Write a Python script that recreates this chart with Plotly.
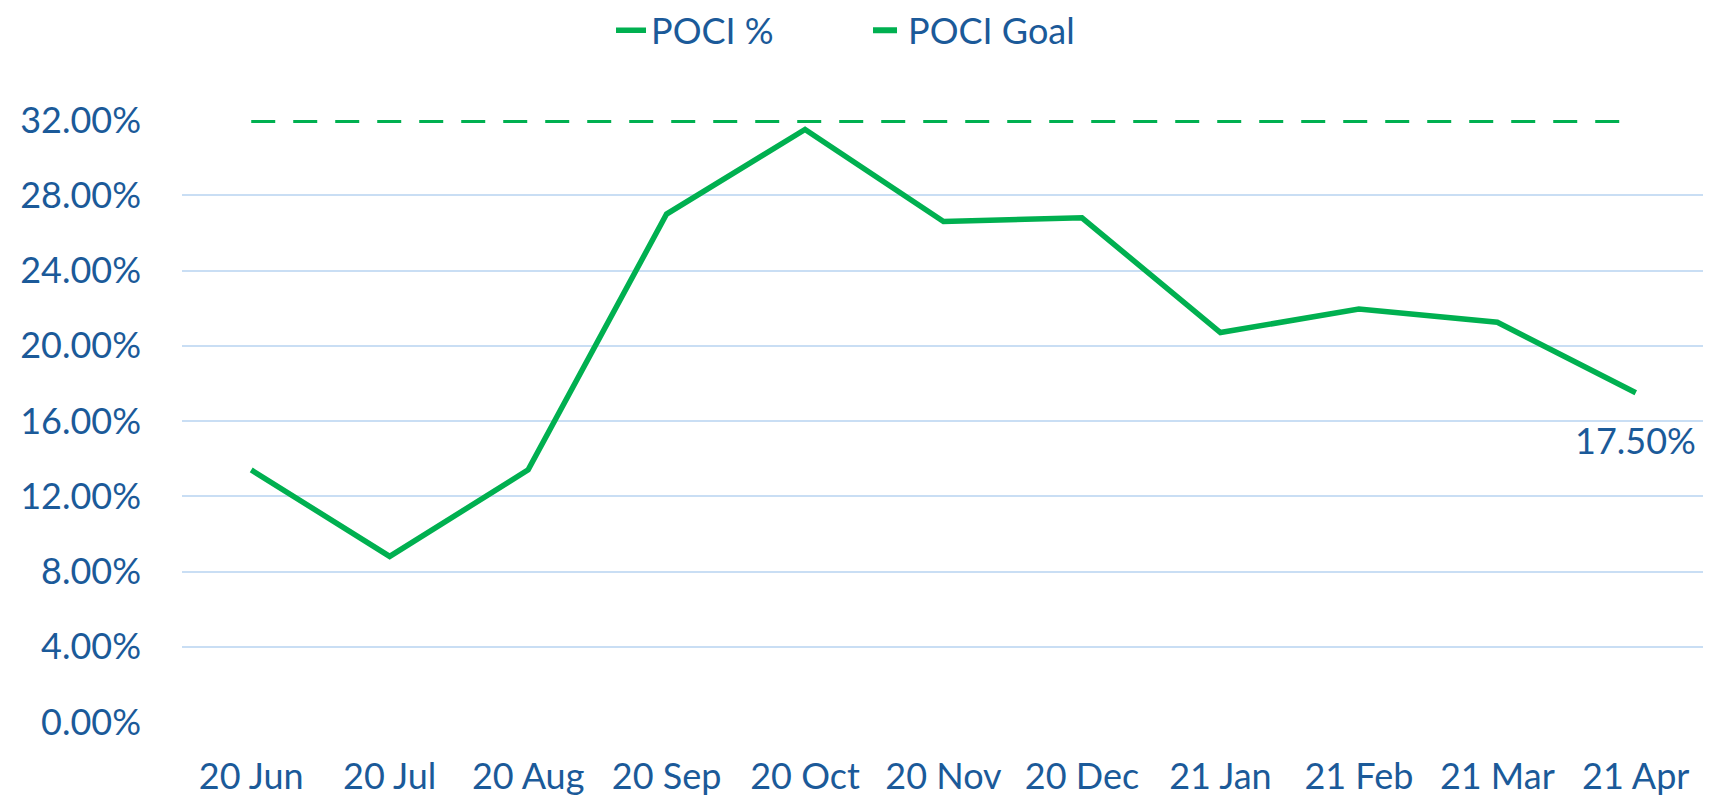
import plotly.graph_objects as go

months = ["20 Jun", "20 Jul", "20 Aug", "20 Sep", "20 Oct", "20 Nov",
          "20 Dec", "21 Jan", "21 Feb", "21 Mar", "21 Apr"]
poci_pct = [13.4, 8.8, 13.4, 27.0, 31.5, 26.6, 26.8, 20.7, 21.95, 21.25, 17.5]
poci_goal = [32.0] * len(months)
y_ticks = [0, 4, 8, 12, 16, 20, 24, 28, 32]

GREEN = "#00B050"
TXT = "#1B5A99"
GRID = "#C9DEF4"
FONT = "Lato"

fig = go.Figure()
fig.add_trace(go.Scatter(
    x=months, y=poci_pct, name="POCI %", mode="lines",
    line=dict(color=GREEN, width=5.5),
))
fig.add_trace(go.Scatter(
    x=months, y=poci_goal, name="POCI Goal", mode="lines",
    line=dict(color=GREEN, width=6, dash="24px,18px"),
))
fig.add_annotation(
    x=months[-1], y=poci_pct[-1], text=f"{poci_pct[-1]:.2f}%",
    showarrow=False, yshift=-47, xanchor="center", yanchor="middle",
    font=dict(family=FONT, size=36, color=TXT),
)

fig.update_layout(
    width=1703, height=790,
    margin=dict(l=174, r=6, t=112, b=76, autoexpand=False),
    paper_bgcolor="white", plot_bgcolor="white",
    font=dict(family=FONT, size=36, color=TXT),
    showlegend=True,
    legend=dict(orientation="h", x=0.505, xref="container", xanchor="center",
                y=1.149, yref="paper", yanchor="middle",
                font=dict(family=FONT, size=36, color=TXT),
                entrywidth=212, entrywidthmode="pixels", tracegroupgap=0),
)
fig.update_xaxes(
    range=[-0.5, len(months) - 0.5],
    showgrid=False, showline=False, zeroline=False,
    tickfont=dict(family=FONT, size=36, color=TXT),
    ticklabelstandoff=30,
)
fig.update_yaxes(
    range=[0, 32], tickvals=y_ticks,
    ticktext=[f"{v:.2f}%" for v in y_ticks],
    showgrid=True, gridcolor=GRID, gridwidth=2,
    zeroline=False, showline=False,
    tickfont=dict(family=FONT, size=36, color=TXT),
    ticklabelstandoff=40,
)

fig.write_html("out.html")
